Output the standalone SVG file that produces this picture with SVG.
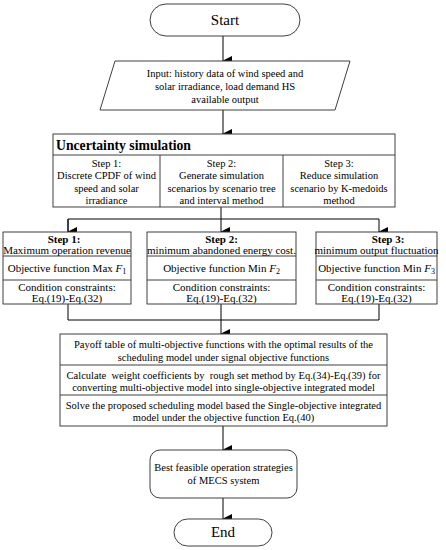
<svg xmlns="http://www.w3.org/2000/svg" width="446" height="550" viewBox="0 0 446 550">
<defs>
<marker id="ah" markerWidth="10" markerHeight="10" refX="5" refY="9" orient="auto" markerUnits="userSpaceOnUse" viewBox="0 0 10 10">
<path d="M0,0 L10,0 L5,10 Z" fill="#000"/>
</marker>
<style>
.b{fill:#fff;stroke:#404040;stroke-width:1}
.l{fill:none;stroke:#404040;stroke-width:1}
.c{fill:none;stroke:#000;stroke-width:1}
text{font-family:'Liberation Serif','Times New Roman',serif;fill:#000;text-anchor:middle;font-size:10.5px}
.o{font-size:11px}
.big{font-size:15px}
.h{font-size:13.7px;font-weight:bold;text-anchor:start}
.s{font-weight:bold}
</style>
</defs>
<rect width="446" height="550" fill="#fff"/>
<g id="connectors">
<line class="c" x1="223" y1="36" x2="223" y2="61" marker-end="url(#ah)"/>
<line class="c" x1="223" y1="110" x2="223" y2="134" marker-end="url(#ah)"/>
<line class="c" x1="221" y1="207" x2="221" y2="232" marker-end="url(#ah)"/>
<polyline class="c" points="68,232 68,219 379,219 379,232" marker-end="url(#ah)"/>
<line class="c" x1="68" y1="219" x2="68" y2="232" marker-end="url(#ah)"/>
<polyline class="c" points="68,304 68,320 379,320 379,304"/>
<line class="c" x1="221" y1="304" x2="221" y2="334" marker-end="url(#ah)"/>
<line class="c" x1="223" y1="426" x2="223" y2="450" marker-end="url(#ah)"/>
<line class="c" x1="223" y1="498" x2="223" y2="519" marker-end="url(#ah)"/>
</g>
<g id="start">
<rect class="b" x="150" y="4" width="150" height="32" rx="16"/>
<text class="big" x="225" y="25">Start</text>
</g>
<g id="input">
<polygon class="b" points="115,61 350,61 335,110 100,110"/>
<text x="225" y="77">Input: history data of wind speed and</text>
<text x="225" y="90">solar irradiance, load demand HS</text>
<text x="225" y="103">available output</text>
</g>
<g id="uncertainty">
<rect class="b" x="53" y="134" width="342" height="73"/>
<line class="l" x1="53" y1="155" x2="395" y2="155"/>
<line class="l" x1="160" y1="155" x2="160" y2="207"/>
<line class="l" x1="283" y1="155" x2="283" y2="207"/>
<text class="h" x="56" y="150">Uncertainty simulation</text>
<text x="106.5" y="167">Step 1:</text>
<text x="106.5" y="179">Discrete CPDF of wind</text>
<text x="106.5" y="192">speed and solar</text>
<text x="106.5" y="204">irradiance</text>
<text x="221.5" y="167">Step 2:</text>
<text x="221.5" y="179">Generate simulation</text>
<text x="221.5" y="192">scenarios by scenario tree</text>
<text x="221.5" y="204">and interval method</text>
<text x="339" y="167">Step 3:</text>
<text x="339" y="179">Reduce simulation</text>
<text x="339" y="192">scenario by K-medoids</text>
<text x="339" y="204">method</text>
</g>
<g id="obj1">
<rect class="b" x="3" y="232" width="128" height="72"/>
<line class="l" x1="3" y1="256" x2="131" y2="256"/>
<line class="l" x1="3" y1="280" x2="131" y2="280"/>
<text class="s o" x="64" y="243">Step 1:</text>
<text class="o" x="67" y="254">Maximum operation revenue</text>
<text class="o" x="67" y="272">Objective function Max <tspan font-style="italic">F</tspan><tspan font-size="8" dy="2">1</tspan></text>
<text class="o" x="67" y="291">Condition constraints:</text>
<text class="o" x="67" y="302">Eq.(19)-Eq.(32)</text>
</g>
<g id="obj2">
<rect class="b" x="147" y="232" width="149" height="72"/>
<line class="l" x1="147" y1="256" x2="296" y2="256"/>
<line class="l" x1="147" y1="280" x2="296" y2="280"/>
<text class="s o" x="221.5" y="243">Step 2:</text>
<text class="o" x="221.5" y="254">minimum abandoned energy cost.</text>
<text class="o" x="221.5" y="272">Objective function Min <tspan font-style="italic">F</tspan><tspan font-size="8" dy="2">2</tspan></text>
<text class="o" x="221.5" y="291">Condition constraints:</text>
<text class="o" x="221.5" y="302">Eq.(19)-Eq.(32)</text>
</g>
<g id="obj3">
<rect class="b" x="316" y="232" width="121" height="72"/>
<line class="l" x1="316" y1="256" x2="437" y2="256"/>
<line class="l" x1="316" y1="280" x2="437" y2="280"/>
<text class="s o" x="388" y="243">Step 3:</text>
<text class="o" x="376.5" y="254">minimum output fluctuation</text>
<text class="o" x="376.5" y="272">Objective function Min <tspan font-style="italic">F</tspan><tspan font-size="8" dy="2">3</tspan></text>
<text class="o" x="376.5" y="291">Condition constraints:</text>
<text class="o" x="376.5" y="302">Eq.(19)-Eq.(32)</text>
</g>
<g id="integration">
<rect class="b" x="60" y="334" width="327" height="92"/>
<line class="l" x1="60" y1="365" x2="387" y2="365"/>
<line class="l" x1="60" y1="395" x2="387" y2="395"/>
<text x="223.5" y="348">Payoff table of multi-objective functions with the optimal results of the</text>
<text x="223.5" y="361">scheduling model under signal objective functions</text>
<text x="223.5" y="379" xml:space="preserve">Calculate  weight coefficients by  rough set method by Eq.(34)-Eq.(39) for</text>
<text x="223.5" y="391">converting multi-objective model into single-objective integrated model</text>
<text x="223.5" y="409">Solve the proposed scheduling model based the Single-objective integrated</text>
<text x="223.5" y="421">model under the objective function Eq.(40)</text>
</g>
<g id="best">
<rect class="b" x="150" y="450" width="147" height="48" rx="10"/>
<text x="223.5" y="471">Best feasible operation strategies</text>
<text x="223.5" y="484">of MECS system</text>
</g>
<g id="end">
<rect class="b" x="174" y="519" width="98" height="27" rx="13.5"/>
<text class="big" x="223" y="537">End</text>
</g>
</svg>
